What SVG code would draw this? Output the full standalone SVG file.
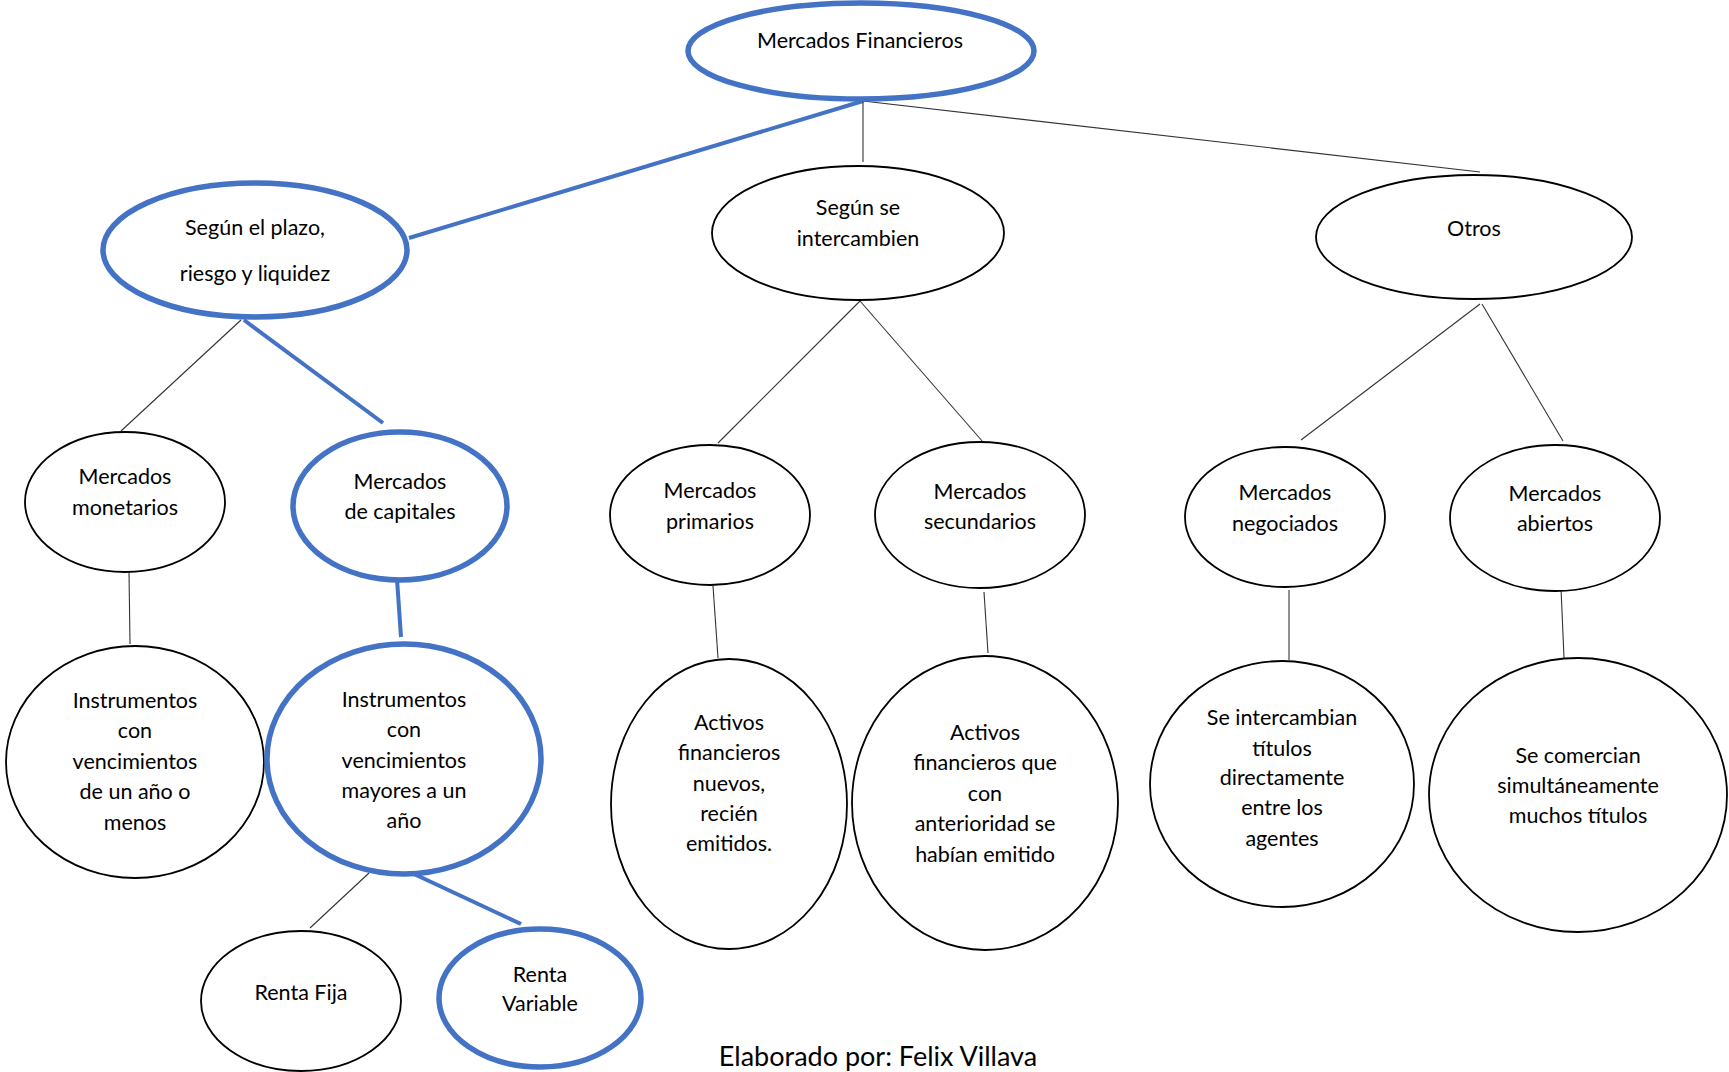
<svg xmlns="http://www.w3.org/2000/svg" width="1729" height="1072" viewBox="0 0 1729 1072">
  <style>
    .node { fill: #ffffff; stroke: #000000; stroke-width: 1.8; }
    .hl { fill: #ffffff; stroke: #4472C4; stroke-width: 5.5; }
    .link { stroke: #333333; stroke-width: 1.1; fill: none; }
    .hlink { stroke: #4472C4; stroke-width: 4; fill: none; }
    text { font-family: Lato, "Open Sans", "Liberation Sans", sans-serif; font-size: 21.5px; fill: #000000; text-anchor: middle; }
    .foot { font-size: 27px; }
  </style>
  <rect width="1729" height="1072" fill="#ffffff"/>

  <!-- connectors -->
  <g id="connectors">
    <line class="hlink" x1="863" y1="101" x2="409" y2="238"/>
    <line class="link" x1="863" y1="101" x2="863" y2="162"/>
    <line class="link" x1="863" y1="101" x2="1480" y2="172"/>
    <line class="link" x1="241" y1="320" x2="121" y2="431"/>
    <line class="hlink" x1="244" y1="320" x2="383" y2="423"/>
    <line class="link" x1="129" y1="572" x2="130" y2="644"/>
    <line class="hlink" x1="397" y1="579" x2="401" y2="637"/>
    <line class="link" x1="369" y1="873" x2="310" y2="928"/>
    <line class="hlink" x1="414" y1="874" x2="521" y2="924"/>
    <line class="link" x1="860" y1="301" x2="718" y2="443"/>
    <line class="link" x1="860" y1="301" x2="983" y2="442"/>
    <line class="link" x1="713" y1="586" x2="718" y2="658"/>
    <line class="link" x1="984" y1="592" x2="988" y2="653"/>
    <line class="link" x1="1480" y1="304" x2="1301" y2="440"/>
    <line class="link" x1="1482" y1="304" x2="1563" y2="441"/>
    <line class="link" x1="1289" y1="590" x2="1289" y2="660"/>
    <line class="link" x1="1561" y1="588" x2="1564" y2="658"/>
  </g>

  <g id="mercados-financieros">
    <ellipse class="hl" cx="861" cy="51" rx="173" ry="48"/>
    <text x="860" y="48">Mercados Financieros</text>
  </g>

  <g id="segun-plazo">
    <ellipse class="hl" cx="255" cy="250" rx="152" ry="67"/>
    <text x="255" y="235">Según el plazo,</text>
    <text x="255" y="281">riesgo y liquidez</text>
  </g>

  <g id="segun-intercambien">
    <ellipse class="node" cx="858" cy="233" rx="146" ry="67"/>
    <text x="858" y="215">Según se</text>
    <text x="858" y="246">intercambien</text>
  </g>

  <g id="otros">
    <ellipse class="node" cx="1474" cy="237" rx="158" ry="62"/>
    <text x="1474" y="236">Otros</text>
  </g>

  <g id="mercados-monetarios">
    <ellipse class="node" cx="125" cy="502" rx="100" ry="70"/>
    <text x="125" y="484">Mercados</text>
    <text x="125" y="515">monetarios</text>
  </g>

  <g id="mercados-capitales">
    <ellipse class="hl" cx="400" cy="506" rx="107" ry="74"/>
    <text x="400" y="489">Mercados</text>
    <text x="400" y="519">de capitales</text>
  </g>

  <g id="instrumentos-corto">
    <ellipse class="node" cx="135" cy="762" rx="129" ry="116"/>
    <text x="135" y="708">Instrumentos</text>
    <text x="135" y="738">con</text>
    <text x="135" y="769">vencimientos</text>
    <text x="135" y="799">de un año o</text>
    <text x="135" y="830">menos</text>
  </g>

  <g id="instrumentos-largo">
    <ellipse class="hl" cx="404" cy="759" rx="137" ry="115"/>
    <text x="404" y="707">Instrumentos</text>
    <text x="404" y="737">con</text>
    <text x="404" y="768">vencimientos</text>
    <text x="404" y="798">mayores a un</text>
    <text x="404" y="828">año</text>
  </g>

  <g id="renta-fija">
    <ellipse class="node" cx="301" cy="1001" rx="100" ry="70"/>
    <text x="301" y="1000">Renta Fija</text>
  </g>

  <g id="renta-variable">
    <ellipse class="hl" cx="540" cy="998" rx="101" ry="69"/>
    <text x="540" y="982">Renta</text>
    <text x="540" y="1011">Variable</text>
  </g>

  <g id="mercados-primarios">
    <ellipse class="node" cx="710" cy="515" rx="100" ry="70"/>
    <text x="710" y="498">Mercados</text>
    <text x="710" y="529">primarios</text>
  </g>

  <g id="mercados-secundarios">
    <ellipse class="node" cx="980" cy="515" rx="105" ry="73"/>
    <text x="980" y="499">Mercados</text>
    <text x="980" y="529">secundarios</text>
  </g>

  <g id="activos-nuevos">
    <ellipse class="node" cx="729" cy="804" rx="118" ry="145"/>
    <text x="729" y="730">Activos</text>
    <text x="729" y="760">financieros</text>
    <text x="729" y="791">nuevos,</text>
    <text x="729" y="821">recién</text>
    <text x="729" y="851">emitidos.</text>
  </g>

  <g id="activos-emitidos">
    <ellipse class="node" cx="985" cy="803" rx="133" ry="147"/>
    <text x="985" y="740">Activos</text>
    <text x="985" y="770">financieros que</text>
    <text x="985" y="801">con</text>
    <text x="985" y="831">anterioridad se</text>
    <text x="985" y="862">habían emitido</text>
  </g>

  <g id="mercados-negociados">
    <ellipse class="node" cx="1285" cy="517" rx="100" ry="70"/>
    <text x="1285" y="500">Mercados</text>
    <text x="1285" y="531">negociados</text>
  </g>

  <g id="mercados-abiertos">
    <ellipse class="node" cx="1555" cy="518" rx="105" ry="73"/>
    <text x="1555" y="501">Mercados</text>
    <text x="1555" y="531">abiertos</text>
  </g>

  <g id="intercambio-directo">
    <ellipse class="node" cx="1282" cy="784" rx="132" ry="123"/>
    <text x="1282" y="725">Se intercambian</text>
    <text x="1282" y="756">títulos</text>
    <text x="1282" y="785">directamente</text>
    <text x="1282" y="815">entre los</text>
    <text x="1282" y="846">agentes</text>
  </g>

  <g id="comercio-simultaneo">
    <ellipse class="node" cx="1578" cy="795" rx="149" ry="137"/>
    <text x="1578" y="763">Se comercian</text>
    <text x="1578" y="793">simultáneamente</text>
    <text x="1578" y="823">muchos títulos</text>
  </g>

  <text class="foot" x="878" y="1066">Elaborado por: Felix Villava</text>
</svg>
